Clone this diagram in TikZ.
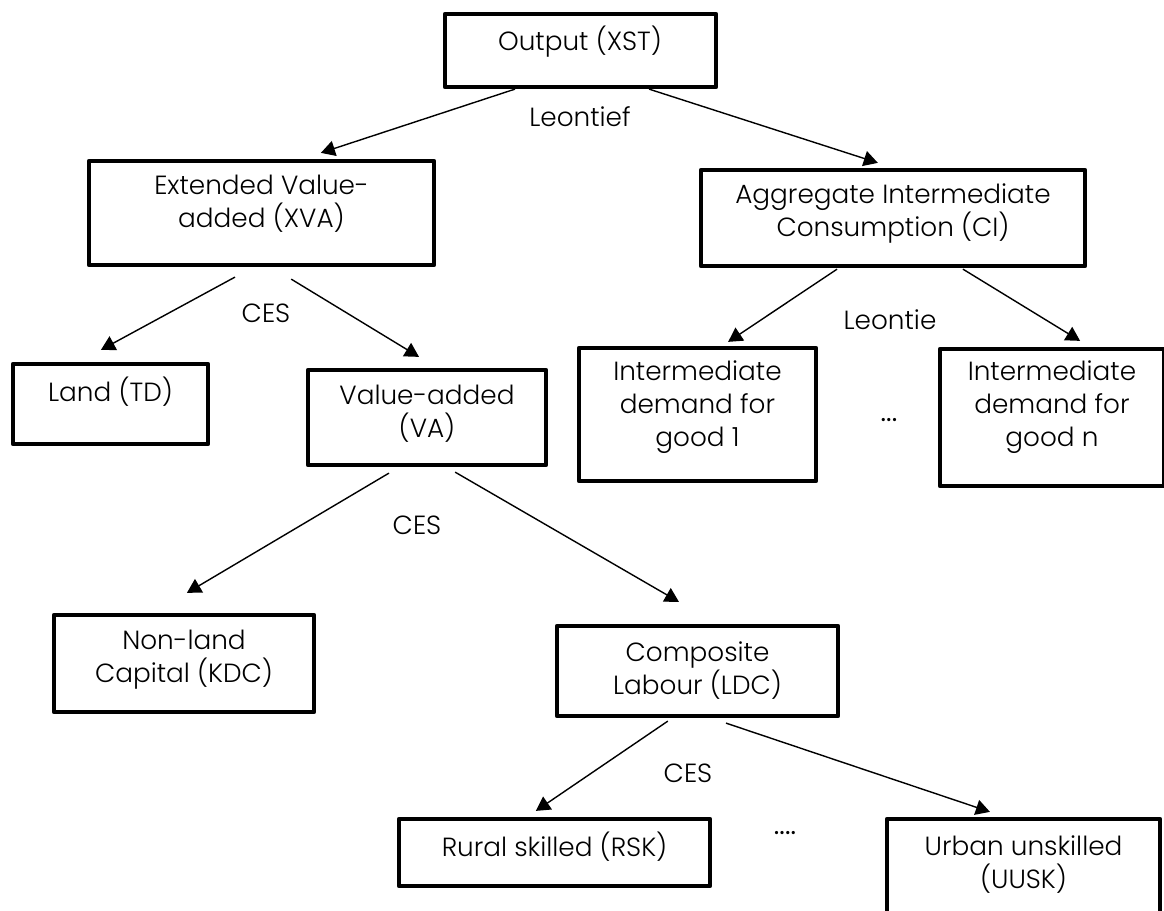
\documentclass[tikz,border=0pt]{standalone}
\usepackage{fontspec}
\setmainfont{Poppins}[UprightFont={* Light},BoldFont={*}]
\usetikzlibrary{arrows.meta,calc}

\begin{document}
\begin{tikzpicture}[x=0.025cm,y=-0.025cm,
    blk/.style={draw,line width=3pt,line join=round,inner sep=0pt},
    txt/.style={font=\fontsize{18.7}{23.5}\selectfont,align=center,inner sep=0pt},
    arr/.style={-{Triangle[length=10pt,width=11pt]},line width=1pt}]
  \clip (0,0) rectangle (1164,911);

  % boxes
  \node[blk,minimum width=6.775cm,minimum height=1.825cm] (out) at (580.5,50.5) {};
  \node[blk,minimum width=8.625cm,minimum height=2.6cm] (xva) at (261.5,213) {};
  \node[blk,minimum width=9.6cm,minimum height=2.4cm] (ci) at (893,218) {};
  \node[blk,minimum width=4.875cm,minimum height=2cm] (land) at (110.5,404) {};
  \node[blk,minimum width=5.95cm,minimum height=2.375cm] (va) at (427,417.5) {};
  \node[blk,minimum width=5.925cm,minimum height=3.325cm] (int1) at (697.5,414.5) {};
  \node[blk,minimum width=5.6cm,minimum height=3.425cm] (intn) at (1052,417.5) {};
  \node[blk,minimum width=6.5cm,minimum height=2.425cm] (kdc) at (184,663.5) {};
  \node[blk,minimum width=7.025cm,minimum height=2.25cm] (ldc) at (697.5,671) {};
  \node[blk,minimum width=7.775cm,minimum height=1.675cm] (rsk) at (554.5,852.5) {};
  \node[blk,minimum width=6.825cm,minimum height=2.85cm] (uusk) at (1023.5,876) {};

  % box texts
  \node[txt] (out-t) at (580,42) {Output (XST)};
  \node[txt] (xva-t) at (261.5,204) {Extended Value-\\added (XVA)};
  \node[txt] (ci-t) at (893,213.5) {Aggregate Intermediate\\Consumption (CI)};
  \node[txt] (land-t) at (110.5,392) {Land (TD)};
  \node[txt] (va-t) at (427,414) {Value-added\\(VA)};
  \node[txt] (int1-t) at (697.5,407) {Intermediate\\demand for\\good 1};
  \node[txt] (intn-t) at (1052,407) {Intermediate\\demand for\\good n};
  \node[txt] (kdc-t) at (184,660) {Non-land\\Capital (KDC)};
  \node[txt] (ldc-t) at (697.5,670.5) {Composite\\Labour (LDC)};
  \node[txt] (rsk-t) at (554.5,847) {Rural skilled (RSK)};
  \node[txt] (uusk-t) at (1023.5,865) {Urban unskilled\\(UUSK)};

  % function labels
  \node[txt] (leo1) at (580,117) {Leontief};
  \node[txt] (ces1) at (266,313) {CES};
  \node[txt] (leo2) at (890,320) {Leontie};
  \node[txt] (ces2) at (417,525) {CES};
  \node[txt,font=\fontsize{18.7}{23.5}\selectfont\bfseries,anchor=base] (dots1) at (889,421) {...};
  \node[txt] (ces3) at (688,773) {CES};
  \node[txt,font=\fontsize{18.7}{23.5}\selectfont\bfseries,anchor=base] (dots2) at (785,834) {....};

  % arrows
  \draw[arr] ($(out.south west)!0.262!(out.south east)$) -- ($(xva.north west)!0.67!(xva.north east)+(0,-6)$);
  \draw[arr] ($(out.south west)!0.749!(out.south east)$) -- ($(ci.north west)!0.461!(ci.north east)+(0,-5)$);
  \draw[arr] ($(xva.south west)!0.424!(xva.south east)+(0,10)$) -- ($(land.north west)!0.452!(land.north east)+(0,-12)$);
  \draw[arr] ($(xva.south west)!0.585!(xva.south east)+(0,12)$) -- ($(va.north west)!0.467!(va.north east)+(0,-11)$);
  \draw[arr] ($(ci.south west)!0.356!(ci.south east)+(0,1)$) -- ($(int1.north west)!0.627!(int1.north east)+(0,-4)$);
  \draw[arr] ($(ci.south west)!0.68!(ci.south east)+(0,1)$) -- ($(intn.north west)!0.623!(intn.north east)+(0,-6)$);
  \draw[arr] ($(va.south west)!0.343!(va.south east)+(0,6)$) -- ($(kdc.north west)!0.511!(kdc.north east)+(0,-20)$);
  \draw[arr] ($(va.south west)!0.616!(va.south east)+(0,5)$) -- ($(ldc.north west)!0.435!(ldc.north east)+(0,-22)$);
  \draw[arr] ($(ldc.south west)!0.396!(ldc.south east)+(0,3)$) -- ($(rsk.north west)!0.441!(rsk.north east)+(0,-6)$);
  \draw[arr] ($(ldc.south west)!0.6!(ldc.south east)+(0,5)$) -- ($(uusk.north west)!0.379!(uusk.north east)+(0,-5)$);
\end{tikzpicture}
\end{document}
